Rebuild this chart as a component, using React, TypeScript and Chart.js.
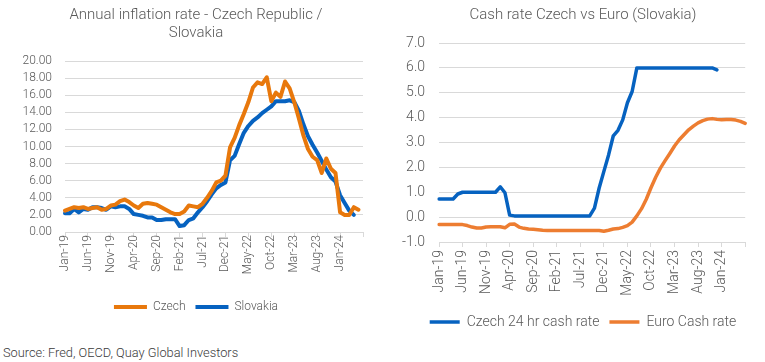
import React, { useEffect, useRef } from "react";
import { Chart, registerables } from "chart.js";

Chart.register(...registerables);

// ---------- data ----------
const MONTHS = [
  "Jan-19", "Feb-19", "Mar-19", "Apr-19", "May-19", "Jun-19", "Jul-19", "Aug-19", "Sep-19", "Oct-19", "Nov-19", "Dec-19",
  "Jan-20", "Feb-20", "Mar-20", "Apr-20", "May-20", "Jun-20", "Jul-20", "Aug-20", "Sep-20", "Oct-20", "Nov-20", "Dec-20",
  "Jan-21", "Feb-21", "Mar-21", "Apr-21", "May-21", "Jun-21", "Jul-21", "Aug-21", "Sep-21", "Oct-21", "Nov-21", "Dec-21",
  "Jan-22", "Feb-22", "Mar-22", "Apr-22", "May-22", "Jun-22", "Jul-22", "Aug-22", "Sep-22", "Oct-22", "Nov-22", "Dec-22",
  "Jan-23", "Feb-23", "Mar-23", "Apr-23", "May-23", "Jun-23", "Jul-23", "Aug-23", "Sep-23", "Oct-23", "Nov-23", "Dec-23",
  "Jan-24", "Feb-24", "Mar-24", "Apr-24", "May-24", "Jun-24",
];

const CZECH_CPI = [
  2.5, 2.7, 2.9, 2.8, 2.9, 2.7, 2.8, 2.9, 2.6, 2.7, 3.1, 3.2,
  3.6, 3.8, 3.5, 3.1, 2.8, 3.3, 3.4, 3.3, 3.2, 2.9, 2.6, 2.3,
  2.1, 2.1, 2.4, 3.1, 3.0, 2.9, 3.3, 4.0, 4.8, 5.8, 6.0, 6.6,
  9.9, 11.0, 12.5, 13.8, 15.2, 16.9, 17.5, 17.3, 18.1, 15.3, 16.3, 15.8,
  17.6, 16.8, 15.2, 13.3, 11.3, 9.7, 8.8, 8.4, 6.9, 8.6, 7.4, 6.9,
  2.3, 2.0, 2.0, 2.9, 2.6,
];

const SLOVAKIA_CPI = [
  2.2, 2.2, 2.7, 2.3, 2.7, 2.6, 2.9, 2.9, 2.8, 2.6, 3.0, 2.9,
  3.0, 3.0, 2.7, 2.1, 2.0, 1.9, 1.7, 1.7, 1.4, 1.4, 1.5, 1.5,
  1.5, 0.7, 0.8, 1.4, 1.6, 2.3, 2.9, 3.6, 4.4, 5.1, 5.5, 5.8,
  8.4, 8.9, 10.3, 11.6, 12.4, 13.0, 13.4, 13.9, 14.3, 14.7, 15.3, 15.3,
  15.3, 15.4, 15.2, 14.2, 12.6, 11.2, 10.2, 9.3, 8.3, 7.3, 6.4, 5.9,
  4.3, 3.4, 2.5, 2.0,
];

const CZECH_CASH = [
  0.73, 0.73, 0.73, 0.73, 0.93, 1.0, 1.0, 1.0, 1.0, 1.0, 1.0, 1.0,
  1.0, 1.22, 0.98, 0.08, 0.05, 0.05, 0.05, 0.05, 0.05, 0.05, 0.05, 0.05,
  0.05, 0.05, 0.05, 0.05, 0.05, 0.05, 0.05, 0.05, 0.05, 0.36, 1.17, 1.84,
  2.5, 3.27, 3.49, 3.91, 4.6, 5.05, 6.0, 6.0, 6.0, 6.0, 6.0, 6.0,
  6.0, 6.0, 6.0, 6.0, 6.0, 6.0, 6.0, 6.0, 6.0, 6.0, 6.0, 5.92,
];

const EURO_CASH = [
  -0.3, -0.3, -0.3, -0.3, -0.3, -0.3, -0.34, -0.4, -0.44, -0.44, -0.4, -0.39,
  -0.39, -0.39, -0.43, -0.29, -0.28, -0.4, -0.45, -0.48, -0.49, -0.51, -0.53, -0.54,
  -0.54, -0.54, -0.54, -0.54, -0.54, -0.54, -0.54, -0.54, -0.54, -0.54, -0.54, -0.57,
  -0.53, -0.48, -0.46, -0.41, -0.34, -0.2, 0.05, 0.34, 0.72, 1.18, 1.6, 1.97,
  2.27, 2.56, 2.86, 3.11, 3.31, 3.51, 3.66, 3.79, 3.88, 3.94, 3.96, 3.93,
  3.91, 3.92, 3.92, 3.9, 3.85, 3.77,
];

const INFL_TITLE = ["Annual inflation rate - Czech Republic /", "Slovakia"];
const CASH_TITLE = "Cash rate Czech vs Euro (Slovakia)";
const SOURCE = "Source: Fred, OECD, Quay Global Investors";

// ---------- styles ----------
const FONT = "Roboto, 'Noto Sans', sans-serif";
const WEIGHT = 300;
const TEXT = "#595959";
const GRID = "#D9D9D9";
const ORANGE_L = "#E8780C";
const BLUE = "#0662C0";
const ORANGE_R = "#ED7D31";

const everyFifth = (labels: string[]) =>
  function (_v: any, i: number) {
    return i % 5 === 0 && i < labels.length - 1 ? labels[i] : "";
  };

// y-axis sized narrower than its labels so that title/legend centre like the reference;
// let its labels draw outside the axis box instead of being clipped
const fixWidth = (w: number) => (s: any) => {
  s.width = w;
  s._computeLabelArea = () => null;
};

function useChart(ref: React.RefObject<HTMLCanvasElement>, makeConfig: () => any) {
  useEffect(() => {
    if (!ref.current) return;
    const chart = new Chart(ref.current, makeConfig());
    return () => chart.destroy();
  }, []);
}

function lineSet(label: string, data: number[], color: string, width: number) {
  return {
    label, data, borderColor: color, backgroundColor: color, borderWidth: width,
    pointRadius: 0, tension: 0, borderCapStyle: "round", borderJoinStyle: "round",
  };
}

function inflationConfig() {
  const tickFont = { family: FONT, size: 12, weight: WEIGHT };
  return {
    type: "line",
    data: {
      labels: MONTHS,
      datasets: [
        lineSet("Czech", CZECH_CPI, ORANGE_L, 4),
        lineSet("Slovakia", SLOVAKIA_CPI, BLUE, 4),
      ],
    },
    options: {
      animation: false,
      responsive: false,
      maintainAspectRatio: false,
      layout: { padding: { left: 29, right: 29, top: 0, bottom: 2 } },
      plugins: {
        title: { display: true, text: INFL_TITLE, color: TEXT, font: { family: FONT, size: 15, weight: WEIGHT, lineHeight: 1.2 }, padding: { top: 6, bottom: 19 } },
        legend: { position: "bottom", labels: { usePointStyle: true, pointStyle: "line", pointStyleWidth: 33, color: TEXT, font: { family: FONT, size: 12, weight: WEIGHT }, padding: 10 } },
        tooltip: { enabled: false },
      },
      scales: {
        x: {
          type: "category",
          grid: { drawOnChartArea: false, drawTicks: true, tickLength: 5, color: (c: any) => (c.index % 5 === 0 ? GRID : "rgba(0,0,0,0)") },
          border: { display: true, color: GRID, width: 1 },
          ticks: { autoSkip: false, minRotation: 90, maxRotation: 90, padding: -2, color: TEXT, font: tickFont, callback: everyFifth(MONTHS) },
          afterFit: (s: any) => { s.height = 59; },
        },
        y: {
          min: 0, max: 20,
          grid: { color: GRID, drawTicks: false },
          border: { display: false },
          ticks: { autoSkip: false, stepSize: 2, padding: 13, color: TEXT, font: tickFont, callback: (v: any) => Number(v).toFixed(2) },
          afterFit: fixWidth(36),
        },
      },
    },
  };
}

function cashConfig() {
  const tickFont = { family: FONT, size: 14, weight: WEIGHT };
  return {
    type: "line",
    data: {
      labels: MONTHS,
      datasets: [
        lineSet("Czech 24 hr cash rate", CZECH_CASH, BLUE, 3.5),
        lineSet("Euro Cash rate", EURO_CASH, ORANGE_R, 3.5),
      ],
    },
    options: {
      animation: false,
      responsive: false,
      maintainAspectRatio: false,
      layout: { padding: { left: 13, right: 13, top: 0, bottom: 6 } },
      plugins: {
        title: { display: true, text: CASH_TITLE, color: TEXT, font: { family: FONT, size: 15, weight: WEIGHT, lineHeight: 1.2 }, padding: { top: 6, bottom: 19 } },
        legend: { position: "bottom", labels: { usePointStyle: true, pointStyle: "line", pointStyleWidth: 30, color: TEXT, font: { family: FONT, size: 14, weight: WEIGHT }, padding: 10 } },
        tooltip: { enabled: false },
      },
      scales: {
        x: {
          type: "category",
          grid: { drawOnChartArea: false, drawTicks: true, tickLength: 5, color: (c: any) => (c.index % 5 === 0 ? GRID : "rgba(0,0,0,0)") },
          border: { display: true, color: GRID, width: 1 },
          ticks: { autoSkip: false, minRotation: 90, maxRotation: 90, padding: 3, color: TEXT, font: tickFont, callback: everyFifth(MONTHS) },
          afterFit: (s: any) => { s.height = 63; },
        },
        y: {
          min: -1, max: 7,
          grid: { color: GRID, drawTicks: false },
          border: { display: false },
          ticks: { autoSkip: false, stepSize: 1, padding: 14, color: TEXT, font: tickFont, callback: (v: any) => Number(v).toFixed(1) },
          afterFit: fixWidth(25),
        },
      },
    },
  };
}

export default function App() {
  const leftRef = useRef<HTMLCanvasElement>(null);
  const rightRef = useRef<HTMLCanvasElement>(null);
  useChart(leftRef, inflationConfig);
  useChart(rightRef, cashConfig);

  return (
    <div style={{ position: "absolute", left: 0, top: 0, width: 765, height: 362, background: "#fff", overflow: "hidden", fontFamily: FONT }}>
      <canvas ref={leftRef} width={392} height={325} style={{ position: "absolute", left: 0, top: 0, width: 392, height: 325 }} />
      <canvas ref={rightRef} width={364} height={345} style={{ position: "absolute", left: 401, top: 0, width: 364, height: 345 }} />
      <div style={{ position: "absolute", left: 3, top: 345, fontSize: 12.8, lineHeight: "16px", fontWeight: WEIGHT, color: "#3A3A3A", whiteSpace: "nowrap" }}>{SOURCE}</div>
    </div>
  );
}
